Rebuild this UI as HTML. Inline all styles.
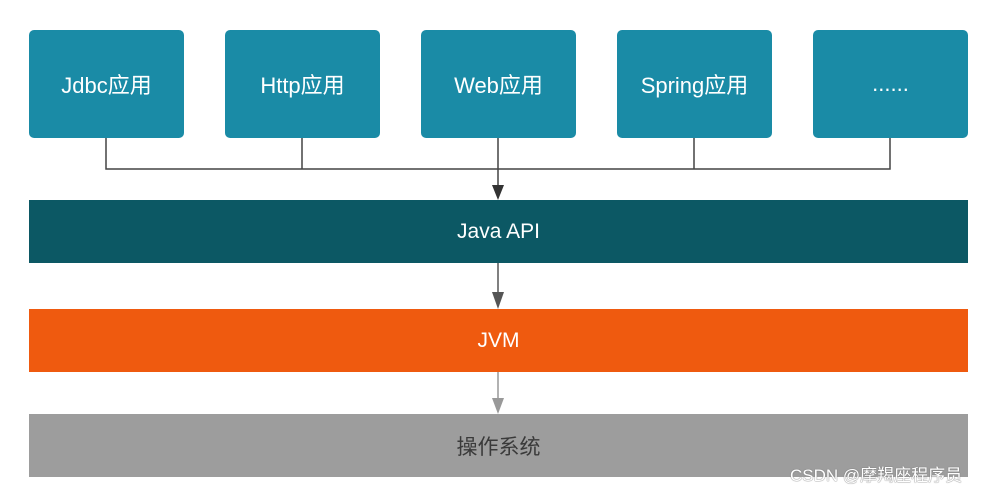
<!DOCTYPE html>
<html><head><meta charset="utf-8"><style>
html,body{margin:0;padding:0;background:#fff;}
body{width:984px;height:492px;position:relative;overflow:hidden;font-family:"Liberation Sans","Noto Sans CJK SC",sans-serif;}
.b{position:absolute;top:30px;width:155px;height:108px;background:#1a8ba6;border-radius:5px;color:#fff;font-size:22px;display:flex;align-items:center;justify-content:center;}
.bar{position:absolute;left:29px;width:939px;height:63px;display:flex;align-items:center;justify-content:center;font-size:21px;}
svg{position:absolute;left:0;top:0;}
</style></head><body>
<div class="b" style="left:29px">Jdbc应用</div>
<div class="b" style="left:225px">Http应用</div>
<div class="b" style="left:421px">Web应用</div>
<div class="b" style="left:617px">Spring应用</div>
<div class="b" style="left:813px">......</div>
<div class="bar" style="top:200px;background:#0c5864;color:#fff;">Java API</div>
<div class="bar" style="top:309px;background:#ef5a0f;color:#fff;">JVM</div>
<div class="bar" style="top:414px;height:63px;background:#9d9d9d;color:#3a3a3a;">操作系统</div>
<svg width="984" height="492">
<g stroke="#444" stroke-width="1.5" fill="none">
<path d="M106 138V169H890V138M302 138V169M694 138V169M498 138V190"/>
</g>
<polygon points="492,185 504,185 498,200" fill="#333"/>
<line x1="498" y1="263" x2="498" y2="295" stroke="#555" stroke-width="1.5"/>
<polygon points="492,292 504,292 498,309" fill="#555"/>
<line x1="498" y1="372" x2="498" y2="400" stroke="#999" stroke-width="1.5"/>
<polygon points="492,398 504,398 498,414" fill="#999"/>
</svg>
<div style="position:absolute;left:790px;top:461px;font-size:17px;color:#fff;text-shadow:0 0 1px #777,0 0 1px #777;">CSDN @摩羯座程序员</div>
</body></html>
